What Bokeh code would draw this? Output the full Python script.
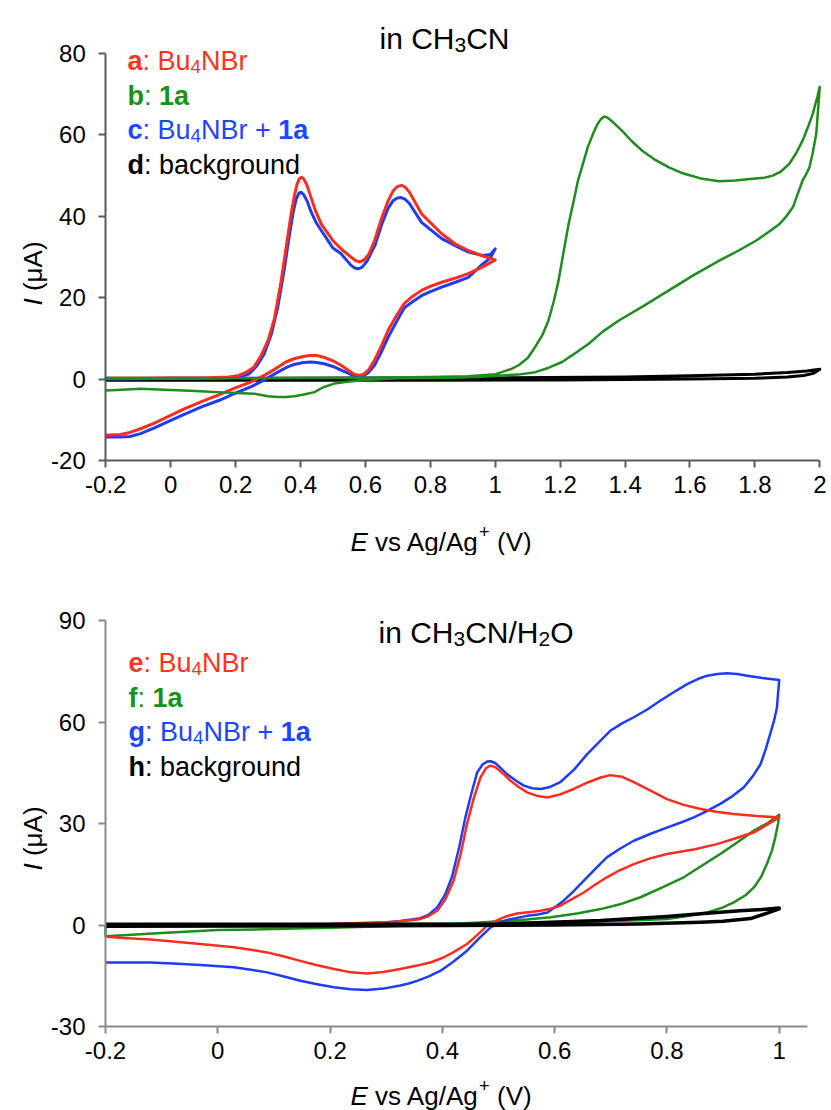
import math
from bokeh.plotting import figure
from bokeh.models import Range1d, FixedTicker, Label
from bokeh.layouts import column
from bokeh.embed import file_html
from bokeh.resources import INLINE

# ---------------- data: top panel (in CH3CN) ----------------
a_x_fwd = [-0.2, -0.1, 0.0, 0.1, 0.18, 0.21, 0.235, 0.257, 0.28, 0.30, 0.32, 0.34, 0.355, 0.371, 0.381, 0.389,
           0.396, 0.403, 0.41, 0.419, 0.43, 0.445, 0.464, 0.50, 0.525, 0.555, 0.57, 0.582, 0.595, 0.61, 0.628,
           0.65, 0.67, 0.685, 0.698, 0.711, 0.722, 0.735, 0.773, 0.835, 0.877, 0.917, 0.96, 1.0]
a_y_fwd = [0.2, 0.2, 0.3, 0.3, 0.5, 0.9, 1.8, 3.0, 6.0, 9.5, 15.0, 24.0, 32.0, 40.6, 45.0, 47.8,
           49.2, 49.6, 49.2, 47.8, 45.2, 41.6, 38.1, 34.0, 32.0, 30.0, 29.1, 28.8, 29.2, 30.6, 34.0,
           39.6, 43.8, 46.2, 47.3, 47.6, 47.2, 46.0, 40.6, 35.7, 33.2, 31.6, 30.3, 29.3]
a_x_rev = [1.0, 0.96, 0.917, 0.877, 0.835, 0.80, 0.773, 0.745, 0.72, 0.695, 0.67, 0.65, 0.628, 0.61, 0.595,
           0.58, 0.565, 0.545, 0.525, 0.50, 0.475, 0.45, 0.427, 0.405, 0.38, 0.355, 0.33, 0.31, 0.288, 0.25,
           0.195, 0.15, 0.093, 0.04, -0.01, -0.05, -0.093, -0.125, -0.155, -0.2]
a_y_rev = [29.3, 27.5, 25.9, 24.8, 23.8, 22.8, 21.8, 20.3, 18.6, 15.5, 12.0, 8.3, 4.6, 2.3, 1.2,
           0.9, 1.2, 2.3, 3.4, 4.5, 5.3, 5.8, 5.8, 5.5, 5.0, 4.2, 2.9, 1.9, 0.9, -0.6,
           -2.3, -3.8, -5.6, -7.4, -9.3, -10.8, -12.2, -13.1, -13.6, -13.8]

c_x_fwd = [-0.2, -0.1, 0.0, 0.1, 0.18, 0.215, 0.242, 0.265, 0.288, 0.31, 0.33, 0.35, 0.365, 0.378, 0.387,
           0.395, 0.402, 0.41, 0.42, 0.432, 0.447, 0.464, 0.50, 0.525, 0.555, 0.567, 0.578, 0.59, 0.605,
           0.63, 0.65, 0.67, 0.685, 0.698, 0.71, 0.722, 0.735, 0.773, 0.835, 0.877, 0.917, 0.96, 0.985, 1.0]
c_y_fwd = [0.1, 0.1, 0.2, 0.2, 0.3, 0.6, 1.3, 3.2, 6.2, 11.0, 17.7, 27.0, 35.0, 41.3, 44.3,
           45.7, 45.9, 45.3, 43.8, 41.2, 38.6, 36.5, 32.2, 30.8, 28.0, 27.3, 27.1, 27.5, 29.0,
           33.0, 38.0, 42.0, 43.8, 44.5, 44.6, 44.2, 43.2, 38.5, 34.5, 32.8, 31.2, 30.4, 30.6, 32.0]
c_x_rev = [1.0, 0.985, 0.96, 0.917, 0.877, 0.835, 0.80, 0.773, 0.745, 0.72, 0.695, 0.67, 0.65, 0.628, 0.61,
           0.595, 0.58, 0.565, 0.545, 0.525, 0.50, 0.475, 0.45, 0.43, 0.405, 0.38, 0.355, 0.33, 0.31, 0.288,
           0.25, 0.195, 0.15, 0.093, 0.04, -0.01, -0.05, -0.093, -0.125, -0.155, -0.2]
c_y_rev = [32.0, 29.8, 28.2, 25.0, 23.8, 22.6, 21.5, 20.5, 19.0, 17.5, 14.0, 10.3, 6.8, 3.4, 1.7,
           0.9, 0.6, 0.8, 1.5, 2.2, 3.1, 3.7, 4.1, 4.2, 4.0, 3.6, 2.8, 1.7, 0.8, -0.2,
           -1.8, -3.6, -5.2, -6.9, -8.7, -10.5, -12.0, -13.4, -14.1, -14.2, -14.2]

b_x_fwd = [-0.2, 0.0, 0.2, 0.4, 0.6, 0.8, 0.917, 1.0, 1.02, 1.05, 1.072, 1.10, 1.123, 1.145, 1.164, 1.18,
           1.195, 1.21, 1.226, 1.242, 1.255, 1.267, 1.285, 1.303, 1.316, 1.327, 1.336, 1.345, 1.356, 1.37,
           1.391, 1.42, 1.453, 1.49, 1.535, 1.58, 1.638, 1.69, 1.74, 1.793, 1.83, 1.855, 1.88, 1.906,
           1.927, 1.947, 1.963, 1.978, 1.993, 2.0]
b_y_fwd = [0.0, 0.1, 0.2, 0.3, 0.35, 0.5, 0.7, 1.2, 1.7, 2.5, 3.4, 5.2, 7.9, 10.8, 14.4, 19.0,
           24.2, 31.0, 38.1, 43.9, 48.8, 52.0, 57.0, 60.6, 62.8, 64.0, 64.5, 64.3, 63.6, 62.6,
           61.0, 58.5, 56.1, 54.0, 52.0, 50.5, 49.2, 48.6, 48.8, 49.2, 49.5, 50.0, 51.0, 52.9,
           55.5, 58.6, 61.8, 65.1, 69.5, 71.8]
b_x_rev = [2.0, 1.989, 1.978, 1.968, 1.957, 1.947, 1.932, 1.917, 1.897, 1.876, 1.84, 1.803, 1.75, 1.69,
           1.61, 1.535, 1.46, 1.381, 1.33, 1.288, 1.245, 1.206, 1.165, 1.123, 1.07, 1.02, 0.96, 0.9, 0.8,
           0.7, 0.6, 0.55, 0.504, 0.47, 0.443, 0.41, 0.381, 0.355, 0.33, 0.30, 0.258, 0.2, 0.144, 0.09,
           0.041, -0.02, -0.093, -0.15, -0.2]
b_y_rev = [71.8, 60.2, 55.5, 52.0, 50.2, 48.8, 45.5, 42.2, 40.0, 38.1, 36.0, 34.0, 31.6, 29.1,
           25.5, 21.8, 18.1, 14.4, 11.6, 8.7, 6.3, 4.2, 2.8, 1.7, 1.1, 0.9, 0.6, 0.4, 0.3,
           0.2, -0.2, -0.6, -1.1, -2.0, -3.2, -3.8, -4.2, -4.4, -4.4, -4.2, -3.6, -3.4, -3.2, -3.0,
           -2.8, -2.6, -2.4, -2.6, -2.8]

d_x_fwd = [-0.2, 0.2, 0.6, 1.0, 1.4, 1.6, 1.8, 1.9, 1.96, 2.0]
d_y_fwd = [0.2, 0.2, 0.25, 0.3, 0.5, 0.8, 1.2, 1.6, 2.0, 2.4]
d_x_rev = [2.0, 1.98, 1.95, 1.9, 1.8, 1.6, 1.2, 0.8, 0.4, 0.0, -0.2]
d_y_rev = [2.4, 1.4, 0.9, 0.5, 0.2, 0.0, -0.2, -0.3, -0.3, -0.3, -0.3]

# ---------------- data: bottom panel (in CH3CN/H2O) ----------------
e_x_fwd = [-0.2, 0.0, 0.2, 0.3, 0.325, 0.345, 0.361, 0.375, 0.391, 0.405, 0.42, 0.432, 0.444, 0.456, 0.468,
           0.478, 0.486, 0.495, 0.508, 0.521, 0.536, 0.551, 0.57, 0.587, 0.61, 0.634, 0.66, 0.682, 0.699,
           0.72, 0.741, 0.77, 0.8, 0.83, 0.86, 0.89, 0.919, 0.96, 1.0]
e_y_fwd = [0.0, 0.1, 0.3, 0.7, 1.1, 1.4, 1.8, 2.6, 4.2, 7.5, 13.1, 20.5, 29.9, 37.5, 43.6,
           46.4, 47.1, 46.6, 44.8, 42.7, 40.8, 39.2, 38.1, 37.7, 38.6, 40.2, 42.2, 43.6, 44.3,
           43.8, 42.2, 39.8, 37.2, 35.5, 34.3, 33.4, 32.8, 32.2, 31.8]
e_x_rev = [1.0, 0.98, 0.955, 0.92, 0.889, 0.85, 0.8, 0.77, 0.741, 0.715, 0.693, 0.672, 0.652, 0.63, 0.61,
           0.59, 0.575, 0.553, 0.533, 0.515, 0.503, 0.49, 0.48, 0.462, 0.444, 0.42, 0.402, 0.38, 0.355,
           0.325, 0.295, 0.266, 0.237, 0.207, 0.177, 0.147, 0.118, 0.088, 0.059, 0.029, -0.031, -0.08,
           -0.12, -0.16, -0.2]
e_y_rev = [31.8, 29.8, 27.4, 25.5, 23.9, 22.4, 21.0, 19.7, 18.0, 16.1, 14.1, 11.9, 9.6, 7.6, 5.7,
           4.7, 4.2, 3.8, 3.4, 2.6, 1.8, 0.8, -0.2, -3.0, -5.6, -8.0, -9.6, -11.0, -12.0,
           -13.0, -13.9, -14.3, -14.0, -13.0, -11.9, -10.6, -9.3, -8.1, -7.3, -6.6, -5.6, -4.9,
           -4.3, -3.9, -3.5]

g_x_fwd = [-0.2, 0.0, 0.2, 0.3, 0.325, 0.345, 0.361, 0.375, 0.391, 0.405, 0.417, 0.43, 0.441, 0.452, 0.462,
           0.472, 0.48, 0.486, 0.495, 0.505, 0.515, 0.53, 0.545, 0.56, 0.575, 0.592, 0.61, 0.635, 0.658,
           0.68, 0.699, 0.72, 0.741, 0.765, 0.788, 0.812, 0.836, 0.855, 0.872, 0.89, 0.907, 0.925, 0.943,
           0.97, 1.0]
g_y_fwd = [0.0, 0.1, 0.3, 0.8, 1.2, 1.6, 2.0, 3.0, 5.2, 9.0, 14.1, 23.0, 31.8, 39.0, 45.1,
           47.5, 48.3, 48.4, 47.8, 46.2, 44.6, 42.8, 41.2, 40.4, 40.2, 40.8, 42.2, 46.0, 50.5,
           54.2, 57.4, 59.6, 61.4, 63.7, 66.3, 68.8, 71.2, 72.7, 73.7, 74.2, 74.4, 74.2, 73.7,
           73.0, 72.4]
g_x_rev = [1.0, 0.998, 0.996, 0.991, 0.984, 0.976, 0.967, 0.953, 0.937, 0.917, 0.895, 0.87, 0.848, 0.825,
           0.8, 0.77, 0.741, 0.717, 0.693, 0.672, 0.652, 0.634, 0.616, 0.6, 0.587, 0.57, 0.551, 0.533,
           0.515, 0.5, 0.486, 0.465, 0.444, 0.42, 0.397, 0.376, 0.355, 0.34, 0.325, 0.295, 0.266, 0.237,
           0.207, 0.177, 0.147, 0.118, 0.088, 0.059, 0.029, -0.031, -0.08, -0.12, -0.16, -0.2]
g_y_rev = [72.4, 68.5, 64.3, 60.5, 56.5, 52.0, 47.6, 44.0, 40.7, 38.1, 35.8, 33.6, 31.8, 30.3,
           28.8, 26.9, 24.9, 22.6, 20.0, 16.5, 13.1, 10.0, 7.2, 5.2, 3.7, 3.1, 2.7, 2.1,
           1.5, 0.5, -0.7, -4.0, -7.6, -10.8, -13.5, -15.2, -16.5, -17.3, -17.9, -18.8, -19.2, -19.0,
           -18.4, -17.5, -16.5, -15.2, -14.0, -13.2, -12.5, -11.8, -11.4, -11.1, -11.1, -11.1]

f_x_fwd = [-0.2, 0.0, 0.2, 0.4, 0.6, 0.682, 0.75, 0.8, 0.84, 0.872, 0.9, 0.919, 0.94, 0.955, 0.968, 0.978,
           0.987, 0.993, 0.998, 1.0]
f_y_fwd = [0.0, 0.1, 0.2, 0.4, 0.7, 1.0, 1.4, 1.8, 2.7, 3.7, 5.2, 6.7, 8.8, 11.1, 14.3, 18.0,
           22.0, 25.9, 30.0, 32.6]
f_x_rev = [1.0, 0.98, 0.955, 0.925, 0.895, 0.862, 0.83, 0.79, 0.753, 0.72, 0.682, 0.64, 0.593, 0.55, 0.503,
           0.45, 0.4, 0.3, 0.2, 0.1, 0.0, -0.1, -0.2, -0.2]
f_y_rev = [32.6, 30.2, 27.9, 24.4, 21.0, 17.5, 14.1, 11.0, 8.2, 6.3, 4.7, 3.4, 2.3, 1.6, 1.1,
           0.6, 0.2, -0.4, -0.8, -1.2, -1.5, -2.4, -3.3, 0.0]

h_x_fwd = [-0.2, 0.2, 0.5, 0.682, 0.8, 0.86, 0.93, 0.97, 1.0]
h_y_fwd = [0.2, 0.2, 0.3, 1.3, 2.5, 3.3, 4.2, 4.6, 5.0]
h_x_rev = [1.0, 0.98, 0.949, 0.9, 0.86, 0.75, 0.6, 0.3, -0.2]
h_y_rev = [4.8, 3.6, 1.9, 1.1, 0.8, 0.3, 0.0, -0.2, -0.4]

top_xticks = [-0.2, 0, 0.2, 0.4, 0.6, 0.8, 1, 1.2, 1.4, 1.6, 1.8, 2]
top_xlabels = ["-0.2", "0", "0.2", "0.4", "0.6", "0.8", "1", "1.2", "1.4", "1.6", "1.8", "2"]
top_yticks = [-20, 0, 20, 40, 60, 80]
top_ylabels = ["-20", "0", "20", "40", "60", "80"]
bot_xticks = [-0.2, 0, 0.2, 0.4, 0.6, 0.8, 1]
bot_xlabels = ["-0.2", "0", "0.2", "0.4", "0.6", "0.8", "1"]
bot_yticks = [-30, 0, 30, 60, 90]
bot_ylabels = ["-30", "0", "30", "60", "90"]

RED = "#fa2d1e"
GREEN = "#1e8c1e"
BLUE = "#1f3cf5"
BLACK = "#000000"
TXT_RED = "#ff3420"
TXT_GREEN = "#179117"
TXT_BLUE = "#1e46ff"
FONT = "Liberation Sans"

# Arial / Liberation Sans advance widths (per 1000 em)
W_REG = {' ': 278, '(': 333, ')': 333, '+': 584, '/': 278, ':': 278, 'A': 667, 'B': 667, 'C': 722,
         'E': 667, 'H': 722, 'I': 278, 'N': 722, 'O': 778, 'V': 667, 'a': 556, 'b': 556, 'c': 500,
         'd': 556, 'e': 556, 'f': 278, 'g': 556, 'h': 556, 'i': 222, 'k': 500, 'n': 556, 'o': 556,
         'r': 333, 's': 500, 'u': 556, 'v': 500, '\u03bc': 576}
W_BOLD = {' ': 278, ':': 333, 'a': 556, 'b': 611, 'c': 556, 'd': 611, 'e': 556, 'f': 333, 'g': 611,
          'h': 611, '1': 556}


def text_width(s, size, bold=False):
    table = W_BOLD if bold else W_REG
    return sum(table.get(ch, 556) for ch in s) * size / 1000.0


class Mapper:
    """Maps canvas pixels of a figure (frame = whole figure) to data values."""

    def __init__(self, W, H, x_a, px_a, x_b, px_b, y_a, py_a, y_b, py_b):
        self.kx = (x_b - x_a) / (px_b - px_a)
        self.x0 = x_a - px_a * self.kx
        self.ky = (y_b - y_a) / (py_b - py_a)
        self.y0 = y_a - py_a * self.ky
        self.xr = (self.x(0), self.x(W))
        self.yr = (self.y(H), self.y(0))

    def x(self, px):
        return self.x0 + px * self.kx

    def y(self, py):
        return self.y0 + py * self.ky


def make_fig(m, height, xticks, xlabels, xend, yticks, ylabels, axis_color):
    p = figure(width=831, height=height, x_range=Range1d(*m.xr), y_range=Range1d(*m.yr),
               output_backend="svg", toolbar_location=None, min_border_left=0,
               min_border_right=0, min_border_top=0, min_border_bottom=0)
    p.outline_line_color = None
    p.grid.visible = False
    p.background_fill_color = "white"
    p.border_fill_color = "white"
    for ax in (p.xaxis[0], p.yaxis[0]):
        ax.axis_line_color = axis_color
        ax.axis_line_width = 2
        ax.major_tick_line_color = axis_color
        ax.major_tick_line_width = 2
        ax.major_tick_out = 7
        ax.major_tick_in = 0
        ax.minor_tick_line_color = None
        ax.major_label_text_font = FONT
        ax.major_label_text_font_size = "24px"
        ax.major_label_text_color = "black"
    xa, ya = p.xaxis[0], p.yaxis[0]
    xa.fixed_location = yticks[0]
    ya.fixed_location = xticks[0]
    xa.ticker = FixedTicker(ticks=xticks)
    xa.major_label_overrides = {t: s for t, s in zip(xticks, xlabels)}
    xa.bounds = (xticks[0], xend)
    xa.major_label_standoff = 8
    ya.ticker = FixedTicker(ticks=yticks)
    ya.major_label_overrides = {t: s for t, s in zip(yticks, ylabels)}
    ya.bounds = (yticks[0], yticks[-1])
    ya.major_label_standoff = 13
    return p


def put_runs(p, m, px, py, runs, size, angle=0.0):
    """runs: list of (text, style, color, kind) with kind in {'n','sub','sup'}.
    Leading/trailing spaces are turned into offsets (SVG collapses them)."""
    a = 0.0
    for text, style, color, kind in runs:
        s = size
        shift = 0.0
        if kind == "sub":
            s = size * 0.7
            shift = size * 0.22
        elif kind == "sup":
            s = size * 0.7
            shift = -size * 0.38
        bold = "bold" in style
        lead = len(text) - len(text.lstrip(" "))
        core = text.strip(" ")
        trail = len(text) - len(text.rstrip(" "))
        a += text_width(" " * lead, s, bold)
        if core:
            if angle == 0.0:
                cx, cy = px + a, py + shift
            else:
                cx, cy = px + shift, py - a
            p.add_layout(Label(x=m.x(cx), y=m.y(cy), x_units="data", y_units="data", text=core,
                               text_font=FONT, text_font_size=f"{s:.1f}px", text_font_style=style,
                               text_color=color, text_align="left", text_baseline="alphabetic",
                               angle=angle))
            a += text_width(core, s, bold)
        a += text_width(" " * trail, s, bold)


# ---------------- top figure ----------------
H1 = 555
m1 = Mapper(831, H1, -0.2, 105.3, 2.0, 819.3, -20, 460.0, 80, 53.0)
p1 = make_fig(m1, H1, top_xticks, top_xlabels, 2.0, top_yticks, top_ylabels, "#5a5a5a")

p1.line(d_x_fwd + d_x_rev, d_y_fwd + d_y_rev, line_color=BLACK, line_width=3, line_join="round")
p1.line(c_x_fwd + c_x_rev, c_y_fwd + c_y_rev, line_color=BLUE, line_width=3, line_join="round")
p1.line(a_x_fwd + a_x_rev, a_y_fwd + a_y_rev, line_color=RED, line_width=3, line_join="round")
p1.line(b_x_fwd + b_x_rev, b_y_fwd + b_y_rev, line_color=GREEN, line_width=2.5, line_join="round")

TITLE = 30
LEG = 27
AXL = 26
put_runs(p1, m1, 379, 38, [("in CH", "normal", "black", "n"), ("3", "normal", "black", "sub"),
                           ("CN", "normal", "black", "n")], TITLE)
put_runs(p1, m1, 127, 60, [("a", "bold", TXT_RED, "n"), (": Bu", "normal", TXT_RED, "n"),
                           ("4", "normal", TXT_RED, "sub"), ("NBr", "normal", TXT_RED, "n")], LEG)
put_runs(p1, m1, 127, 95, [("b", "bold", TXT_GREEN, "n"), (": ", "normal", TXT_GREEN, "n"),
                           ("1a", "bold", TXT_GREEN, "n")], LEG)
put_runs(p1, m1, 127, 129, [("c", "bold", TXT_BLUE, "n"), (": Bu", "normal", TXT_BLUE, "n"),
                            ("4", "normal", TXT_BLUE, "sub"), ("NBr + ", "normal", TXT_BLUE, "n"),
                            ("1a", "bold", TXT_BLUE, "n")], LEG)
put_runs(p1, m1, 127, 164, [("d", "bold", BLACK, "n"), (": background", "normal", BLACK, "n")], LEG)
put_runs(p1, m1, 350, 541, [("E", "italic", "black", "n"), (" vs Ag/Ag", "normal", "black", "n"),
                            ("+", "normal", "black", "sup"), (" (V)", "normal", "black", "n")], AXL)
put_runs(p1, m1, 32, 305, [("I", "italic", "black", "n"), (" (\u03bcA)", "normal", "black", "n")], AXL,
         angle=math.pi / 2)

# ---------------- bottom figure ----------------
H2 = 555
OFF = 555
m2 = Mapper(831, H2, -0.2, 105.0, 1.0, 778.7, -30, 1026.0 - OFF, 90, 620.0 - OFF)
p2 = make_fig(m2, H2, bot_xticks, bot_xlabels, 1.05, bot_yticks, bot_ylabels, "#8a8a8a")

p2.line(f_x_fwd + f_x_rev, f_y_fwd + f_y_rev, line_color=GREEN, line_width=2.5, line_join="round")
p2.line(g_x_fwd + g_x_rev, g_y_fwd + g_y_rev, line_color=BLUE, line_width=2.5, line_join="round")
p2.line(e_x_fwd + e_x_rev, e_y_fwd + e_y_rev, line_color=RED, line_width=2.5, line_join="round")
p2.line(h_x_fwd + h_x_rev, h_y_fwd + h_y_rev, line_color=BLACK, line_width=3.5, line_join="round")

put_runs(p2, m2, 378, 632 - OFF, [("in CH", "normal", "black", "n"), ("3", "normal", "black", "sub"),
                                  ("CN/H", "normal", "black", "n"), ("2", "normal", "black", "sub"),
                                  ("O", "normal", "black", "n")], TITLE)
put_runs(p2, m2, 128, 662 - OFF, [("e", "bold", TXT_RED, "n"), (": Bu", "normal", TXT_RED, "n"),
                                  ("4", "normal", TXT_RED, "sub"), ("NBr", "normal", TXT_RED, "n")], LEG)
put_runs(p2, m2, 128, 697 - OFF, [("f", "bold", TXT_GREEN, "n"), (": ", "normal", TXT_GREEN, "n"),
                                  ("1a", "bold", TXT_GREEN, "n")], LEG)
put_runs(p2, m2, 128, 731 - OFF, [("g", "bold", TXT_BLUE, "n"), (": Bu", "normal", TXT_BLUE, "n"),
                                  ("4", "normal", TXT_BLUE, "sub"), ("NBr + ", "normal", TXT_BLUE, "n"),
                                  ("1a", "bold", TXT_BLUE, "n")], LEG)
put_runs(p2, m2, 128, 766 - OFF, [("h", "bold", BLACK, "n"), (": background", "normal", BLACK, "n")], LEG)
put_runs(p2, m2, 350, 1095 - OFF, [("E", "italic", "black", "n"), (" vs Ag/Ag", "normal", "black", "n"),
                                   ("+", "normal", "black", "sup"), (" (V)", "normal", "black", "n")], AXL)
put_runs(p2, m2, 32, 870 - OFF, [("I", "italic", "black", "n"), (" (\u03bcA)", "normal", "black", "n")], AXL,
         angle=math.pi / 2)

layout = column(p1, p2, spacing=0)
open("out.html", "w").write(file_html(layout, INLINE))
